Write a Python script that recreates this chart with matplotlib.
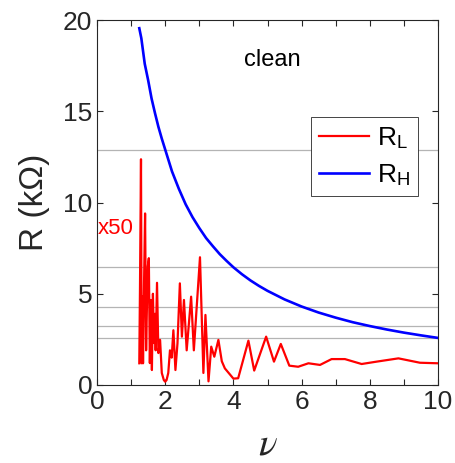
import matplotlib.pyplot as plt
import numpy as np

plt.rcParams['font.family'] = ['Liberation Sans', 'DejaVu Sans']
plt.rcParams['mathtext.fontset'] = 'custom'
plt.rcParams['mathtext.rm'] = 'Liberation Sans'
plt.rcParams['mathtext.it'] = 'STIXGeneral:italic'

# R_L (x50)
nu_L = [1.24, 1.26, 1.29, 1.31, 1.33, 1.35, 1.38, 1.41, 1.44, 1.46, 1.49, 1.52, 1.55, 1.58,
        1.61, 1.64, 1.67, 1.70, 1.72, 1.76, 1.80, 1.85, 1.90, 1.96, 2.0, 2.04, 2.09, 2.14,
        2.19, 2.24, 2.30, 2.36, 2.43, 2.49, 2.55, 2.63, 2.76, 2.84,
        3.02, 3.12, 3.18, 3.27, 3.35, 3.44, 3.56, 3.66, 3.75, 4.0, 4.14, 4.44, 4.61, 4.96,
        5.19, 5.39, 5.64, 5.90, 6.2, 6.54, 6.88, 7.27, 7.76, 8.2, 8.84, 9.47, 10.0]
R_L = [1.19, 5.2, 12.37, 1.19, 4.84, 1.19, 5.6, 9.4, 1.9, 3.9, 6.5, 6.95, 1.2, 4.66,
       0.82, 5.0, 2.3, 3.9, 1.9, 5.6, 1.75, 2.47, 0.66, 0.27, 0.18, 0.27, 0.66, 1.9,
       1.5, 3.0, 0.82, 2.28, 5.57, 2.65, 4.66, 1.9, 4.84, 1.9,
       7.0, 0.66, 3.84, 0.2, 2.1, 1.55, 2.47, 1.3, 0.91, 0.35, 0.37, 2.43, 0.79, 2.65,
       1.28, 2.25, 1.06, 1.0, 1.19, 1.1, 1.42, 1.42, 1.15, 1.28, 1.46, 1.22, 1.19]

# R_H
nu_H = [1.24, 1.3, 1.4, 1.5, 1.6, 1.7, 1.8, 1.9, 2.0, 2.2, 2.4, 2.6, 2.8, 3.0, 3.2, 3.4,
        3.6, 3.8, 4.0, 4.25, 4.5, 4.75, 5.0, 5.5, 6.0, 6.5, 7.0, 7.5, 8.0, 8.5, 9.0, 9.5, 10.0]
R_H = [19.55, 19.0, 17.6, 16.7, 15.7, 14.9, 14.15, 13.5, 12.9, 11.7, 10.75, 9.9, 9.2, 8.6,
       8.05, 7.6, 7.17, 6.8, 6.45, 6.07, 5.73, 5.43, 5.16, 4.69, 4.3, 3.97, 3.69, 3.44,
       3.23, 3.04, 2.87, 2.72, 2.58]

# plateau lines
plateaus = [12.9, 6.45, 4.3, 3.225, 2.58]

fig = plt.figure(figsize=(4.55, 4.63), dpi=100)
ax = fig.add_axes([97/455, 1-385/463, 341/455, 365/463])

for p in plateaus:
	ax.axhline(p, color='#b4b4b4', lw=0.9, zorder=1)

ax.plot(nu_L, R_L, color='#ff0000', lw=1.6, label='R$_\\mathrm{L}$', zorder=3)
ax.plot(nu_H, R_H, color='#0000ff', lw=1.9, label='R$_\\mathrm{H}$', zorder=3)

ax.set_xlim(0, 10)
ax.set_ylim(0, 20)
ax.set_xticks(np.arange(0, 11, 2))
ax.set_xticks(np.arange(0, 11, 1), minor=True)
ax.set_yticks(np.arange(0, 21, 5))
ax.tick_params(which='both', direction='in', top=True, right=True, colors='#262626',
               labelsize=19, length=4, width=0.8)
for s in ax.spines.values():
	s.set_color('#262626')
	s.set_linewidth(0.8)

ax.set_xlabel('$\\nu$', fontsize=28, color='#262626', labelpad=9)
ax.set_ylabel('R (k\u03a9)', fontsize=24, color='#262626', labelpad=9)

ax.text(5.13, 17.8, 'clean', fontsize=17, ha='center', va='center', color='black')
ax.text(0.55, 8.6, 'x50', fontsize=16, ha='center', va='center', color='#ff0000')

leg = ax.legend(loc='upper right', bbox_to_anchor=(0.941, 0.734), fontsize=19,
                fancybox=False, framealpha=1, edgecolor='#262626', handlelength=1.9,
                borderpad=0.3, labelspacing=0.45, handletextpad=0.3, borderaxespad=0)
leg.get_frame().set_linewidth(0.6)

fig.savefig('out.png', dpi=100)
